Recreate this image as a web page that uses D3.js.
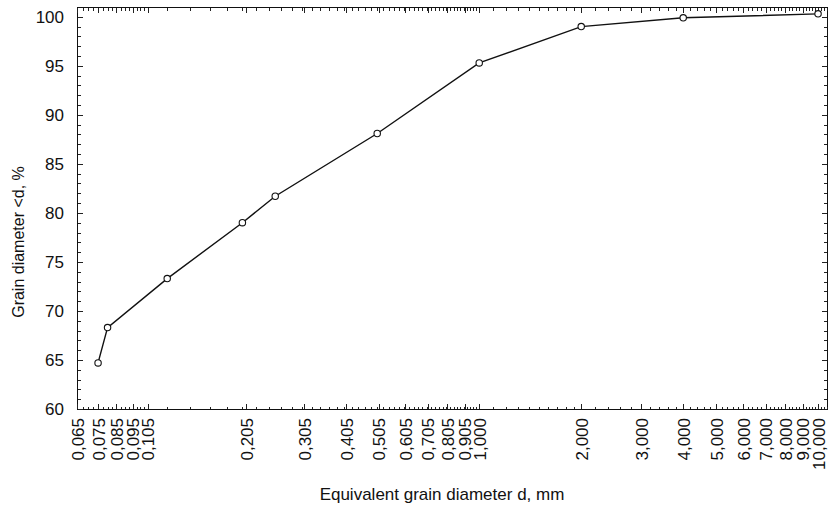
<!DOCTYPE html>
<html>
<head>
<meta charset="utf-8">
<script src="https://cdn.jsdelivr.net/npm/d3@7"></script>
<style>
  html, body { margin: 0; padding: 0; background: #fff; }
  text { font-family: "Liberation Sans", Arial, sans-serif; fill: #111; }
</style>
</head>
<body>
<svg id="chart" width="830" height="505"></svg>
<script>
// ---- data ----
const diameters = [0.075, 0.08, 0.12, 0.2, 0.25, 0.5, 1, 2, 4, 10];
const percentFiner = [64.7, 68.3, 73.3, 79.0, 81.7, 88.1, 95.3, 99.0, 99.9, 100.3];

const xTickValues = [0.065, 0.075, 0.085, 0.095, 0.105, 0.205, 0.305, 0.405, 0.505, 0.605, 0.705, 0.805, 0.905, 1, 2, 3, 4, 5, 6, 7, 8, 9, 10];
const xTickLabels = ["0,065", "0,075", "0,085", "0,095", "0,105", "0,205", "0,305", "0,405", "0,505", "0,605", "0,705", "0,805", "0,905", "1,000", "2,000", "3,000", "4,000", "5,000", "6,000", "7,000", "8,000", "9,000", "10,000"];
const yTickValues = [60, 65, 70, 75, 80, 85, 90, 95, 100];
const yTickLabels = ["60", "65", "70", "75", "80", "85", "90", "95", "100"];

const xTitle = "Equivalent grain diameter d, mm";
const yTitle = "Grain diameter <d, %";

// ---- layout ----
const L = 77, R = 828, T = 7, B = 409;
const svg = d3.select("#chart");

const x = d3.scaleLog().domain([0.065, 10.7]).range([L, R]);
const y = d3.scaleLinear().domain([60, 101]).range([B, T]);

// minor tick positions (axis decoration)
const minorX = [];
for (let v = 0.065; v < 0.1049; v += 0.0025) minorX.push(+v.toFixed(4));
for (let v = 0.12; v < 0.999; v += 0.02) minorX.push(+v.toFixed(3));
for (let v = 1.1; v < 1.999; v += 0.1) minorX.push(+v.toFixed(2));
for (let v = 2.2; v < 10.6; v += 0.2) minorX.push(+v.toFixed(2));
const minorY = d3.range(60, 101, 1);

// frame
svg.append("rect")
  .attr("x", L + 0.5).attr("y", T + 0.5)
  .attr("width", R - L - 1).attr("height", B - T)
  .attr("fill", "none").attr("stroke", "#111").attr("stroke-width", 1.2)
  .attr("shape-rendering", "crispEdges");

function styleAxis(g) {
  g.select(".domain").remove();
  g.selectAll(".tick line").attr("stroke", "#222").attr("stroke-width", 1).attr("shape-rendering", "crispEdges");
}

// minor ticks (all 4 sides)
svg.append("g").attr("transform", `translate(0,${B})`)
  .call(d3.axisBottom(x).tickValues(minorX).tickSize(-2.5).tickFormat(""))
  .call(styleAxis);
svg.append("g").attr("transform", `translate(0,${T + 1})`)
  .call(d3.axisTop(x).tickValues(minorX).tickSize(-2.5).tickFormat(""))
  .call(styleAxis);
svg.append("g").attr("transform", `translate(${L + 1},0)`)
  .call(d3.axisLeft(y).tickValues(minorY).tickSize(-3).tickFormat(""))
  .call(styleAxis);
svg.append("g").attr("transform", `translate(${R - 1},0)`)
  .call(d3.axisRight(y).tickValues(minorY).tickSize(-3).tickFormat(""))
  .call(styleAxis);

// major x axis with rotated labels
const gx = svg.append("g").attr("transform", `translate(0,${B})`)
  .call(d3.axisBottom(x).tickValues(xTickValues).tickSize(-5)
    .tickFormat((d, i) => xTickLabels[i]))
  .call(styleAxis);
gx.selectAll(".tick text")
  .attr("transform", "rotate(-90)")
  .attr("text-anchor", "end")
  .attr("x", -9).attr("y", 0).attr("dy", "0.36em")
  .style("font-size", "17px");
svg.append("g").attr("transform", `translate(0,${T + 1})`)
  .call(d3.axisTop(x).tickValues(xTickValues).tickSize(-5).tickFormat(""))
  .call(styleAxis);

// major y axis
const gy = svg.append("g").attr("transform", `translate(${L + 1},0)`)
  .call(d3.axisLeft(y).tickValues(yTickValues).tickSize(-5).tickPadding(14)
    .tickFormat((d, i) => yTickLabels[i]))
  .call(styleAxis);
gy.selectAll(".tick text").style("font-size", "17px");
svg.append("g").attr("transform", `translate(${R - 1},0)`)
  .call(d3.axisRight(y).tickValues(yTickValues).tickSize(-5).tickFormat(""))
  .call(styleAxis);

// titles
svg.append("text")
  .attr("x", 442).attr("y", 500)
  .attr("text-anchor", "middle")
  .style("font-size", "17px")
  .text(xTitle);
svg.append("text")
  .attr("transform", "translate(24,242) rotate(-90)")
  .attr("text-anchor", "middle")
  .style("font-size", "16px")
  .text(yTitle);

// line + markers
const pts = diameters.map((d, i) => ({ d, p: percentFiner[i] }));
svg.append("path")
  .datum(pts)
  .attr("fill", "none")
  .attr("stroke", "#111")
  .attr("stroke-width", 1.4)
  .attr("d", d3.line().x(e => x(e.d)).y(e => y(e.p)));
svg.append("g").selectAll("circle")
  .data(pts)
  .join("circle")
  .attr("cx", e => x(e.d)).attr("cy", e => y(e.p))
  .attr("r", 3.2)
  .attr("fill", "#fff").attr("stroke", "#111").attr("stroke-width", 1.1);
</script>
</body>
</html>
